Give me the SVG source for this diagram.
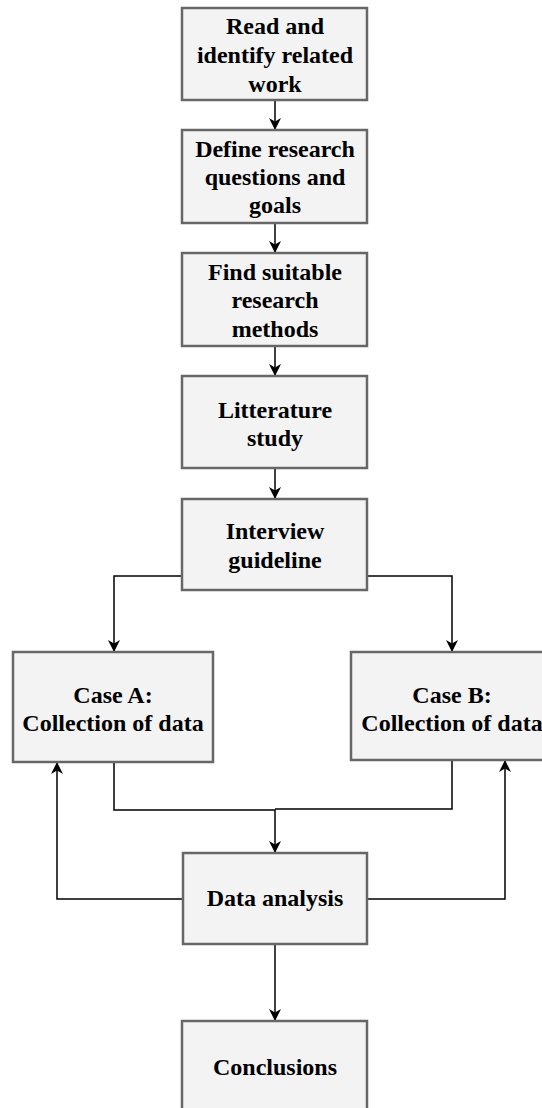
<svg xmlns="http://www.w3.org/2000/svg" width="542" height="1108" viewBox="0 0 542 1108">
<style>
.box{fill:#f3f3f3;stroke:#676767;stroke-width:2.5}
.t{font-family:"Liberation Serif","Times New Roman",serif;font-weight:bold;font-size:24px;fill:#000;text-anchor:middle}
.c{fill:none;stroke:#000;stroke-width:1.5}
</style>
<defs>
<marker id="ah" markerUnits="userSpaceOnUse" markerWidth="12" markerHeight="12" viewBox="0 0 10 10" refX="10" refY="5" orient="auto">
<path d="M0,0 L10,5 L0,10 L3,5 z" fill="#000"/>
</marker>
</defs>
<rect width="542" height="1108" fill="#fff"/>
<g id="connectors">
<path class="c" d="M275,100 V130" marker-end="url(#ah)"/>
<path class="c" d="M275,223 V253" marker-end="url(#ah)"/>
<path class="c" d="M275,346 V376" marker-end="url(#ah)"/>
<path class="c" d="M275,468 V499" marker-end="url(#ah)"/>
<path class="c" d="M182,576 H114 V652" marker-end="url(#ah)"/>
<path class="c" d="M367,576 H452 V652" marker-end="url(#ah)"/>
<path class="c" d="M114,762 V810 H275 V853" marker-end="url(#ah)"/>
<path class="c" d="M452,760 V809 H275"/>
<path class="c" d="M183,899 H57 V762" marker-end="url(#ah)"/>
<path class="c" d="M367,899 H505 V760" marker-end="url(#ah)"/>
<path class="c" d="M275,944 V1021" marker-end="url(#ah)"/>
</g>
<g id="n1"><rect class="box" x="182" y="8" width="185" height="92"/>
<text class="t" x="275" y="34">Read and</text><text class="t" x="275" y="63">identify related</text><text class="t" x="275" y="92">work</text></g>
<g id="n2"><rect class="box" x="182" y="130" width="185" height="93"/>
<text class="t" x="275" y="157">Define research</text><text class="t" x="275" y="185">questions and</text><text class="t" x="275" y="213">goals</text></g>
<g id="n3"><rect class="box" x="182" y="253" width="185" height="93"/>
<text class="t" x="275" y="280">Find suitable</text><text class="t" x="275" y="308">research</text><text class="t" x="275" y="337">methods</text></g>
<g id="n4"><rect class="box" x="182" y="376" width="185" height="92"/>
<text class="t" x="275" y="418">Litterature</text><text class="t" x="275" y="446">study</text></g>
<g id="n5"><rect class="box" x="182" y="499" width="185" height="91"/>
<text class="t" x="275" y="539">Interview</text><text class="t" x="275" y="568">guideline</text></g>
<g id="n6"><rect class="box" x="13" y="652" width="200" height="110"/>
<text class="t" x="113" y="703">Case A:</text><text class="t" x="113" y="731">Collection of data</text></g>
<g id="n7"><rect class="box" x="351" y="652" width="202" height="108"/>
<text class="t" x="452" y="703">Case B:</text><text class="t" x="452" y="731">Collection of data</text></g>
<g id="n8"><rect class="box" x="183" y="853" width="184" height="91"/>
<text class="t" x="275" y="906">Data analysis</text></g>
<g id="n9"><rect class="box" x="182" y="1021" width="185" height="95"/>
<text class="t" x="275" y="1075">Conclusions</text></g>
</svg>
